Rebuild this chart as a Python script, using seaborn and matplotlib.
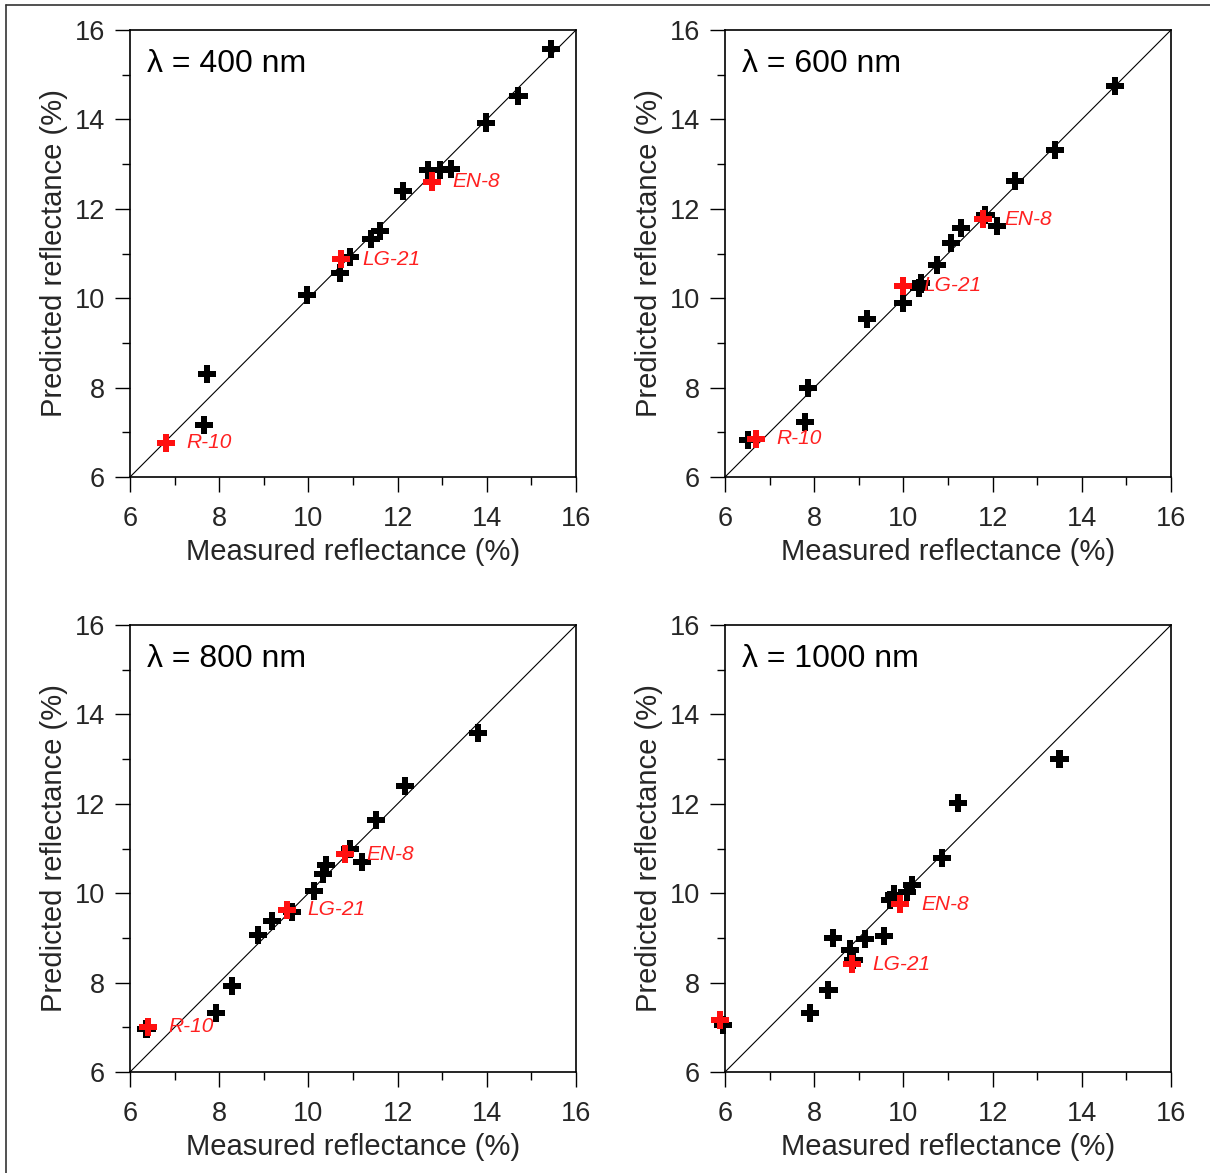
import matplotlib
matplotlib.use("Agg")
import matplotlib.pyplot as plt
from matplotlib.lines import Line2D
from matplotlib.ticker import MultipleLocator
import seaborn as sns
import pandas as pd

sns.set_style("white")
plt.rcParams['font.family'] = ['Liberation Sans', 'DejaVu Sans']

# ---------------- data ----------------
wavelengths = [400, 600, 800, 1000]
sample_labels = ["R-10", "LG-21", "EN-8"]

meas_400 = [7.73, 7.66, 9.96, 10.70, 10.93, 11.41, 11.60, 12.13, 12.69, 12.94, 13.20, 13.99, 14.71, 15.44]
pred_400 = [8.31, 7.17, 10.08, 10.57, 10.93, 11.32, 11.51, 12.40, 12.87, 12.87, 12.90, 13.93, 14.52, 15.57]
ref_meas_400 = [6.80, 10.74, 12.77]
ref_pred_400 = [6.77, 10.87, 12.61]

meas_600 = [6.51, 7.79, 7.87, 9.19, 9.99, 10.35, 10.40, 10.75, 11.06, 11.30, 11.84, 12.10, 12.51, 13.39, 14.75]
pred_600 = [6.82, 7.23, 8.00, 9.53, 9.90, 10.22, 10.33, 10.75, 11.24, 11.58, 11.86, 11.62, 12.62, 13.31, 14.75]
ref_meas_600 = [6.69, 9.99, 11.79]
ref_pred_600 = [6.86, 10.28, 11.77]

meas_800 = [6.37, 7.92, 8.29, 8.87, 9.19, 9.63, 10.13, 10.33, 10.40, 10.93, 11.20, 11.51, 12.17, 13.80]
pred_800 = [6.97, 7.31, 7.93, 9.06, 9.37, 9.58, 10.04, 10.42, 10.64, 10.98, 10.70, 11.63, 12.40, 13.59]
ref_meas_800 = [6.40, 9.52, 10.83]
ref_pred_800 = [7.01, 9.63, 10.87]

meas_1000 = [5.95, 7.90, 8.32, 8.42, 8.80, 8.88, 9.13, 9.57, 9.70, 9.79, 10.09, 10.20, 10.86, 11.23, 13.50]
pred_1000 = [7.06, 7.31, 7.84, 9.00, 8.74, 8.50, 8.97, 9.04, 9.84, 9.97, 10.03, 10.18, 10.78, 12.02, 13.01]
ref_meas_1000 = [5.89, 8.84, 9.93]
ref_pred_1000 = [7.16, 8.41, 9.75]

panels = [
    (meas_400, pred_400, ref_meas_400, ref_pred_400),
    (meas_600, pred_600, ref_meas_600, ref_pred_600),
    (meas_800, pred_800, ref_meas_800, ref_pred_800),
    (meas_1000, pred_1000, ref_meas_1000, ref_pred_1000),
]

# ---------------- figure ----------------
W, H = 1210, 1173
fig = plt.figure(figsize=(W / 100, H / 100), dpi=100)

# frame lines (top and left) of the original figure box
fig.add_artist(Line2D([6 / W, 6 / W], [0, 1 - 5 / H], color="#333333", lw=1.2, transform=fig.transFigure))
fig.add_artist(Line2D([6 / W, 1], [1 - 5 / H, 1 - 5 / H], color="#333333", lw=1.2, transform=fig.transFigure))

ax_boxes = [
    (130, 30, 446, 447),
    (725, 30, 446, 447),
    (130, 625, 446, 447),
    (725, 625, 446, 447),
]

for (wl, (mx, my, rx, ry), (px, py, pw, ph)) in zip(wavelengths, panels, ax_boxes):
    ax = fig.add_axes([px / W, 1 - (py + ph) / H, pw / W, ph / H])
    ax.plot([6, 16], [6, 16], color="black", lw=0.8, zorder=1)

    df = pd.DataFrame({
        "Measured": list(mx) + list(rx),
        "Predicted": list(my) + list(ry),
        "group": ["other"] * len(mx) + ["ref"] * len(rx),
    })
    sns.scatterplot(data=df, x="Measured", y="Predicted", hue="group",
                    palette={"other": "black", "ref": "#ff1010"},
                    marker="P", s=170, linewidth=0, legend=False, ax=ax,
                    clip_on=False, zorder=3)

    for lab, x, y in zip(sample_labels, rx, ry):
        ax.annotate(lab, (x, y), xytext=(15, 0), textcoords="offset points",
                    ha="left", va="center", color="#ff2020", fontsize=15,
                    style="italic", zorder=4)

    ax.set_xlim(6, 16)
    ax.set_ylim(6, 16)
    ax.xaxis.set_major_locator(MultipleLocator(2))
    ax.yaxis.set_major_locator(MultipleLocator(2))
    ax.xaxis.set_minor_locator(MultipleLocator(1))
    ax.yaxis.set_minor_locator(MultipleLocator(1))
    ax.tick_params(which="major", direction="out", length=11, width=1.0,
                   labelsize=19.5, bottom=True, left=True, top=False, right=False, color="black")
    ax.tick_params(axis="x", which="major", pad=10)
    ax.tick_params(axis="y", which="major", pad=7)
    ax.tick_params(which="minor", direction="out", length=6, width=1.0,
                   bottom=True, left=True, top=False, right=False, color="black")
    for sp in ax.spines.values():
        sp.set_color("black")
        sp.set_linewidth(1.2)
        sp.set_visible(True)
    ax.set_xlabel("Measured reflectance (%)", fontsize=21, labelpad=4)
    ax.set_ylabel("Predicted reflectance (%)", fontsize=21, labelpad=5)
    ax.text(17 / pw, 1 - 34 / ph, f"λ = {wl} nm", transform=ax.transAxes,
            ha="left", va="center", fontsize=23, color="black")

fig.savefig("out.png", dpi=100, facecolor="white")
